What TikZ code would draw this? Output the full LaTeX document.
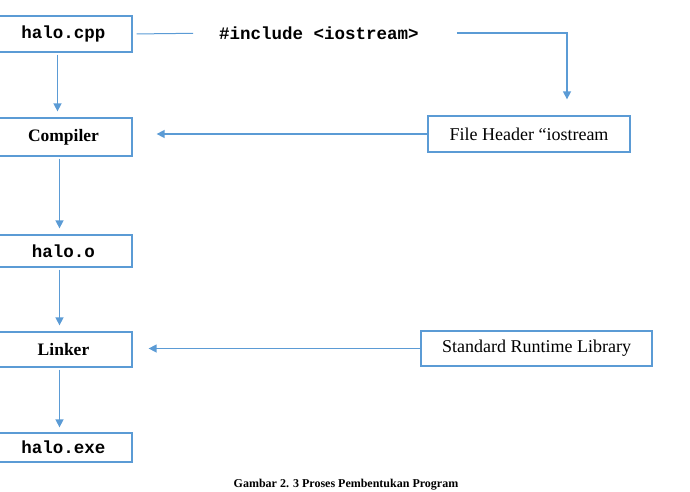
\documentclass[tikz,border=0pt]{standalone}
\usepackage{fontspec}
\setmainfont{Liberation Serif}
\setmonofont{Liberation Mono}
\usetikzlibrary{arrows.meta}
\definecolor{lb}{RGB}{91,155,213}
\tikzset{
  box/.style={draw=lb, line width=1.3pt, inner sep=0pt, minimum width=137pt, font=\fontsize{17}{20}\selectfont},
  codebox/.style={box, font=\fontsize{17.5}{20}\selectfont\ttfamily\bfseries},
  rbox/.style={draw=lb, line width=1.3pt, inner sep=0pt, font=\fontsize{18}{20}\selectfont},
  conn/.style={draw=lb, line width=1.5pt},
  arr/.style={conn, -{Triangle[width=8pt,length=8pt]}}
}
\begin{document}
\begin{tikzpicture}[x=1pt,y=-1pt]
\useasboundingbox (0,0) rectangle (690,492);
\node[codebox, minimum height=36pt] (cpp) at (63.5,34) {halo.cpp};
\node[box, minimum height=38pt, font=\fontsize{17.5}{20}\selectfont\bfseries] (comp) at (63.5,137) {Compiler};
\node[codebox, minimum height=32pt] (obj) at (63.5,251) {halo.o};
\node[box, minimum height=35pt, font=\fontsize{17.5}{20}\selectfont\bfseries] (link) at (63.5,349.5) {Linker};
\node[codebox, minimum height=29pt] (exe) at (63.5,447.5) {halo.exe};
\node[inner sep=0pt, font=\fontsize{17.5}{20}\selectfont\ttfamily\bfseries] (inc) at (319,33) {\#include <iostream>};
\node[rbox, minimum width=202pt, minimum height=36pt] (hdr) at (529,134) {File Header “iostream};
\node[rbox, minimum width=231pt, minimum height=35pt] (lib) at (536.5,348.5) {Standard Runtime Library};
\node[inner sep=0pt, font=\fontsize{12}{14}\selectfont\bfseries] (cap) at (346,485) {Gambar 2. 3 Proses Pembentukan Program};
% top connectors
\draw[conn, line width=1pt, shorten <=4pt, shorten >=26pt] (cpp.east) -- (inc.west);
\draw[arr, shorten >=16pt] ([xshift=38pt]inc.east) -| ([xshift=38pt]hdr.north);
% vertical flow
\draw[arr, shorten <=2pt, shorten >=6pt] ([xshift=-6pt]cpp.south) -- ([xshift=-6pt]comp.north);
\draw[arr, shorten <=2pt, shorten >=6pt] ([xshift=-4pt]comp.south) -- ([xshift=-4pt]obj.north);
\draw[arr, shorten <=2pt, shorten >=6pt] ([xshift=-4pt]obj.south) -- ([xshift=-4pt]link.north);
\draw[arr, shorten <=2pt, shorten >=5pt] ([xshift=-4pt]link.south) -- ([xshift=-4pt]exe.north);
% horizontal inputs
\draw[arr, shorten >=24pt] (hdr.west) -- (hdr.west -| comp.east);
\draw[arr, shorten >=16pt] (lib.west) -- (lib.west -| link.east);
\end{tikzpicture}
\end{document}
